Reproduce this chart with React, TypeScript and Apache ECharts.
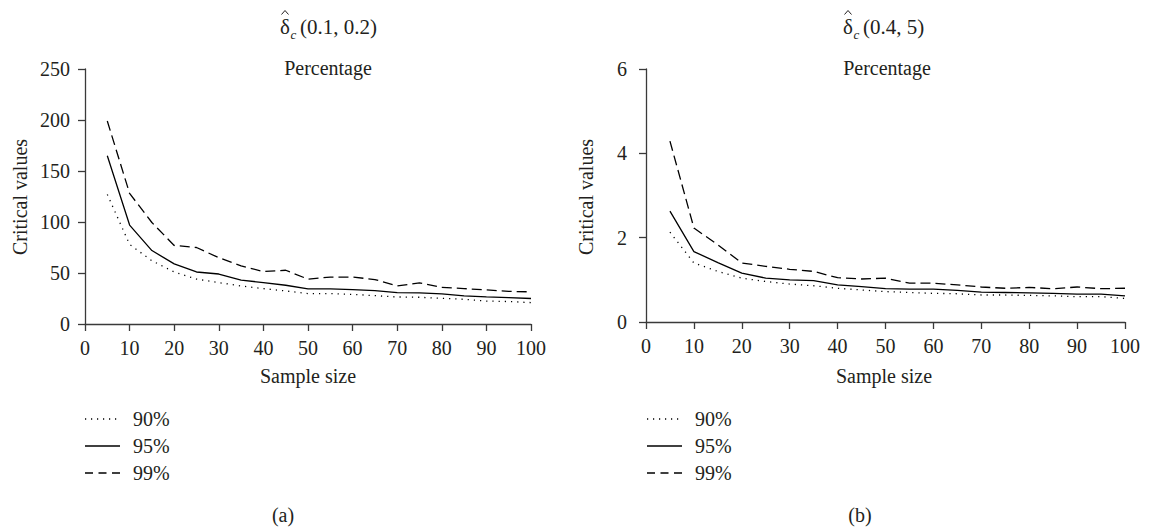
import React, { useEffect, useRef } from "react";
import * as echarts from "echarts";

const sampleSizes = [5, 10, 15, 20, 25, 30, 35, 40, 45, 50, 55, 60, 65, 70, 75, 80, 85, 90, 95, 100];

// Panel (a): delta_c (0.1, 0.2)
const a90 = [127, 78, 62, 51, 44, 40.6, 37.3, 34.7, 32.4, 29.8, 29.8, 29, 27.8, 26.5, 26.2, 25.2, 24.2, 22.5, 22, 21];
const a95 = [165, 97, 72, 59, 51, 49, 43, 40.6, 38, 34.4, 34.4, 33.7, 32.7, 30.8, 30.5, 29.5, 27.5, 26.5, 25.8, 25];
const a99 = [199, 128, 99.5, 77, 75, 65, 57, 51.4, 52.7, 44, 46, 46, 43.6, 37.3, 40.3, 36, 34.7, 33.5, 32, 31.5];

// Panel (b): delta_c (0.4, 5)
const b90 = [2.13, 1.4, 1.2, 1.04, 0.96, 0.9, 0.86, 0.8, 0.76, 0.72, 0.7, 0.68, 0.67, 0.64, 0.64, 0.63, 0.62, 0.6, 0.6, 0.56];
const b95 = [2.63, 1.67, 1.41, 1.16, 1.04, 1.0, 0.98, 0.88, 0.84, 0.79, 0.78, 0.78, 0.75, 0.71, 0.7, 0.69, 0.68, 0.66, 0.66, 0.62];
const b99 = [4.29, 2.23, 1.83, 1.4, 1.32, 1.25, 1.2, 1.05, 1.02, 1.04, 0.92, 0.92, 0.88, 0.83, 0.8, 0.82, 0.79, 0.83, 0.79, 0.8];

const seriesNames = ["90%", "95%", "99%"];
const titleArgs = ["(0.1, 0.2)", "(0.4, 5)"];
const panelLabels = ["(a)", "(b)"];

const FONT = "Liberation Serif";
const FS = 20;
const TXT = "#231f20";
const AX = "#3a3a3a";

const dashes: any[] = [[1.2, 4.8], null, [8, 5.5]];

export default function App() {
  const ref = useRef<HTMLDivElement>(null);
  useEffect(() => {
    document.body.style.margin = "0";
    const chart = echarts.init(ref.current!, null, { renderer: "svg" });
    const toData = (v: number[]) => sampleSizes.map((x, i) => [x, v[i]]);
    const mkSeries = (vals: number[][], idx: number) =>
      vals.map((v, k) => ({
        type: "line",
        name: seriesNames[k],
        xAxisIndex: idx,
        yAxisIndex: idx,
        data: toData(v),
        showSymbol: false,
        symbol: "none",
        lineStyle: {
          color: "#000",
          width: 1.3,
          type: k === 0 ? [1.2, 5] : k === 1 ? "solid" : [10, 5],
        },
      }));

    const xAxisBase = (gi: number) => ({
      type: "value",
      gridIndex: gi,
      min: 0,
      max: 100,
      interval: 10,
      axisLine: { show: true, lineStyle: { color: AX, width: 1.3 } },
      axisTick: { show: true, length: 7, lineStyle: { color: AX, width: 1.3 } },
      axisLabel: { color: TXT, fontFamily: FONT, fontSize: FS, margin: 14 },
      splitLine: { show: false },
    });
    const yAxisBase = (gi: number, max: number, interval: number, margin: number) => ({
      type: "value",
      gridIndex: gi,
      min: 0,
      max,
      interval,
      axisLine: { show: true, lineStyle: { color: AX, width: 1.3 } },
      axisTick: { show: true, length: 7, lineStyle: { color: AX, width: 1.3 } },
      axisLabel: { color: TXT, fontFamily: FONT, fontSize: FS, margin },
      splitLine: { show: false },
    });

    const txt = (x: number, y: number, text: string, extra: any = {}) => ({
      type: "text",
      x,
      y,
      style: {
        text,
        fill: TXT,
        font: `${FS}px "${FONT}"`,
        textAlign: "center",
        textVerticalAlign: "middle",
        ...extra,
      },
    });

    const titleGroup = (x0: number, arg: string) => ({
      type: "group",
      children: [
        { type: "text", x: x0, y: 27, style: { text: "δ", fill: TXT, font: `21px "${FONT}"`, textVerticalAlign: "middle" } },
        {
          type: "polyline",
          shape: { points: [[x0 + 1.5, 14.5], [x0 + 5, 10.5], [x0 + 8.5, 14.5]] },
          style: { stroke: TXT, lineWidth: 1, fill: null },
        },
        { type: "text", x: x0 + 10.5, y: 34, style: { text: "c", fill: TXT, font: `italic 13px "${FONT}"`, textVerticalAlign: "middle" } },
        { type: "text", x: x0 + 20, y: 27, style: { text: arg, fill: TXT, font: `21px "${FONT}"`, textVerticalAlign: "middle" } },
      ],
    });

    const legendGroup = (x0: number) => ({
      type: "group",
      children: seriesNames.flatMap((name, k) => {
        const y = 419 + k * 27;
        return [
          {
            type: "line",
            shape: { x1: x0, y1: y, x2: x0 + 35, y2: y },
            style: { stroke: "#000", lineWidth: 1.3, lineDash: dashes[k] },
          },
          txt(x0 + 48, y, name, { textAlign: "left" }),
        ];
      }),
    });

    chart.setOption({
      animation: false,
      backgroundColor: "#fff",
      textStyle: { fontFamily: FONT },
      grid: [
        { left: 85, right: 620, top: 69, bottom: 203 },
        { left: 646, right: 26, top: 69, bottom: 205 },
      ],
      xAxis: [xAxisBase(0), xAxisBase(1)],
      yAxis: [yAxisBase(0, 250, 50, 15), yAxisBase(1, 6, 2, 19)],
      series: [...mkSeries([a90, a95, a99], 0), ...mkSeries([b90, b95, b99], 1)],
      graphic: [
        titleGroup(280, titleArgs[0]),
        titleGroup(843, titleArgs[1]),
        txt(328, 68, "Percentage"),
        txt(887, 68, "Percentage"),
        txt(308, 376, "Sample size"),
        txt(884, 376, "Sample size"),
        { ...txt(20, 197, "Critical values"), rotation: Math.PI / 2 },
        { ...txt(586, 197, "Critical values"), rotation: Math.PI / 2 },
        legendGroup(85),
        legendGroup(647),
        txt(283, 515, panelLabels[0]),
        txt(860, 515, panelLabels[1]),
      ],
    });
    return () => chart.dispose();
  }, []);
  return <div ref={ref} style={{ width: 1151, height: 527 }} />;
}
